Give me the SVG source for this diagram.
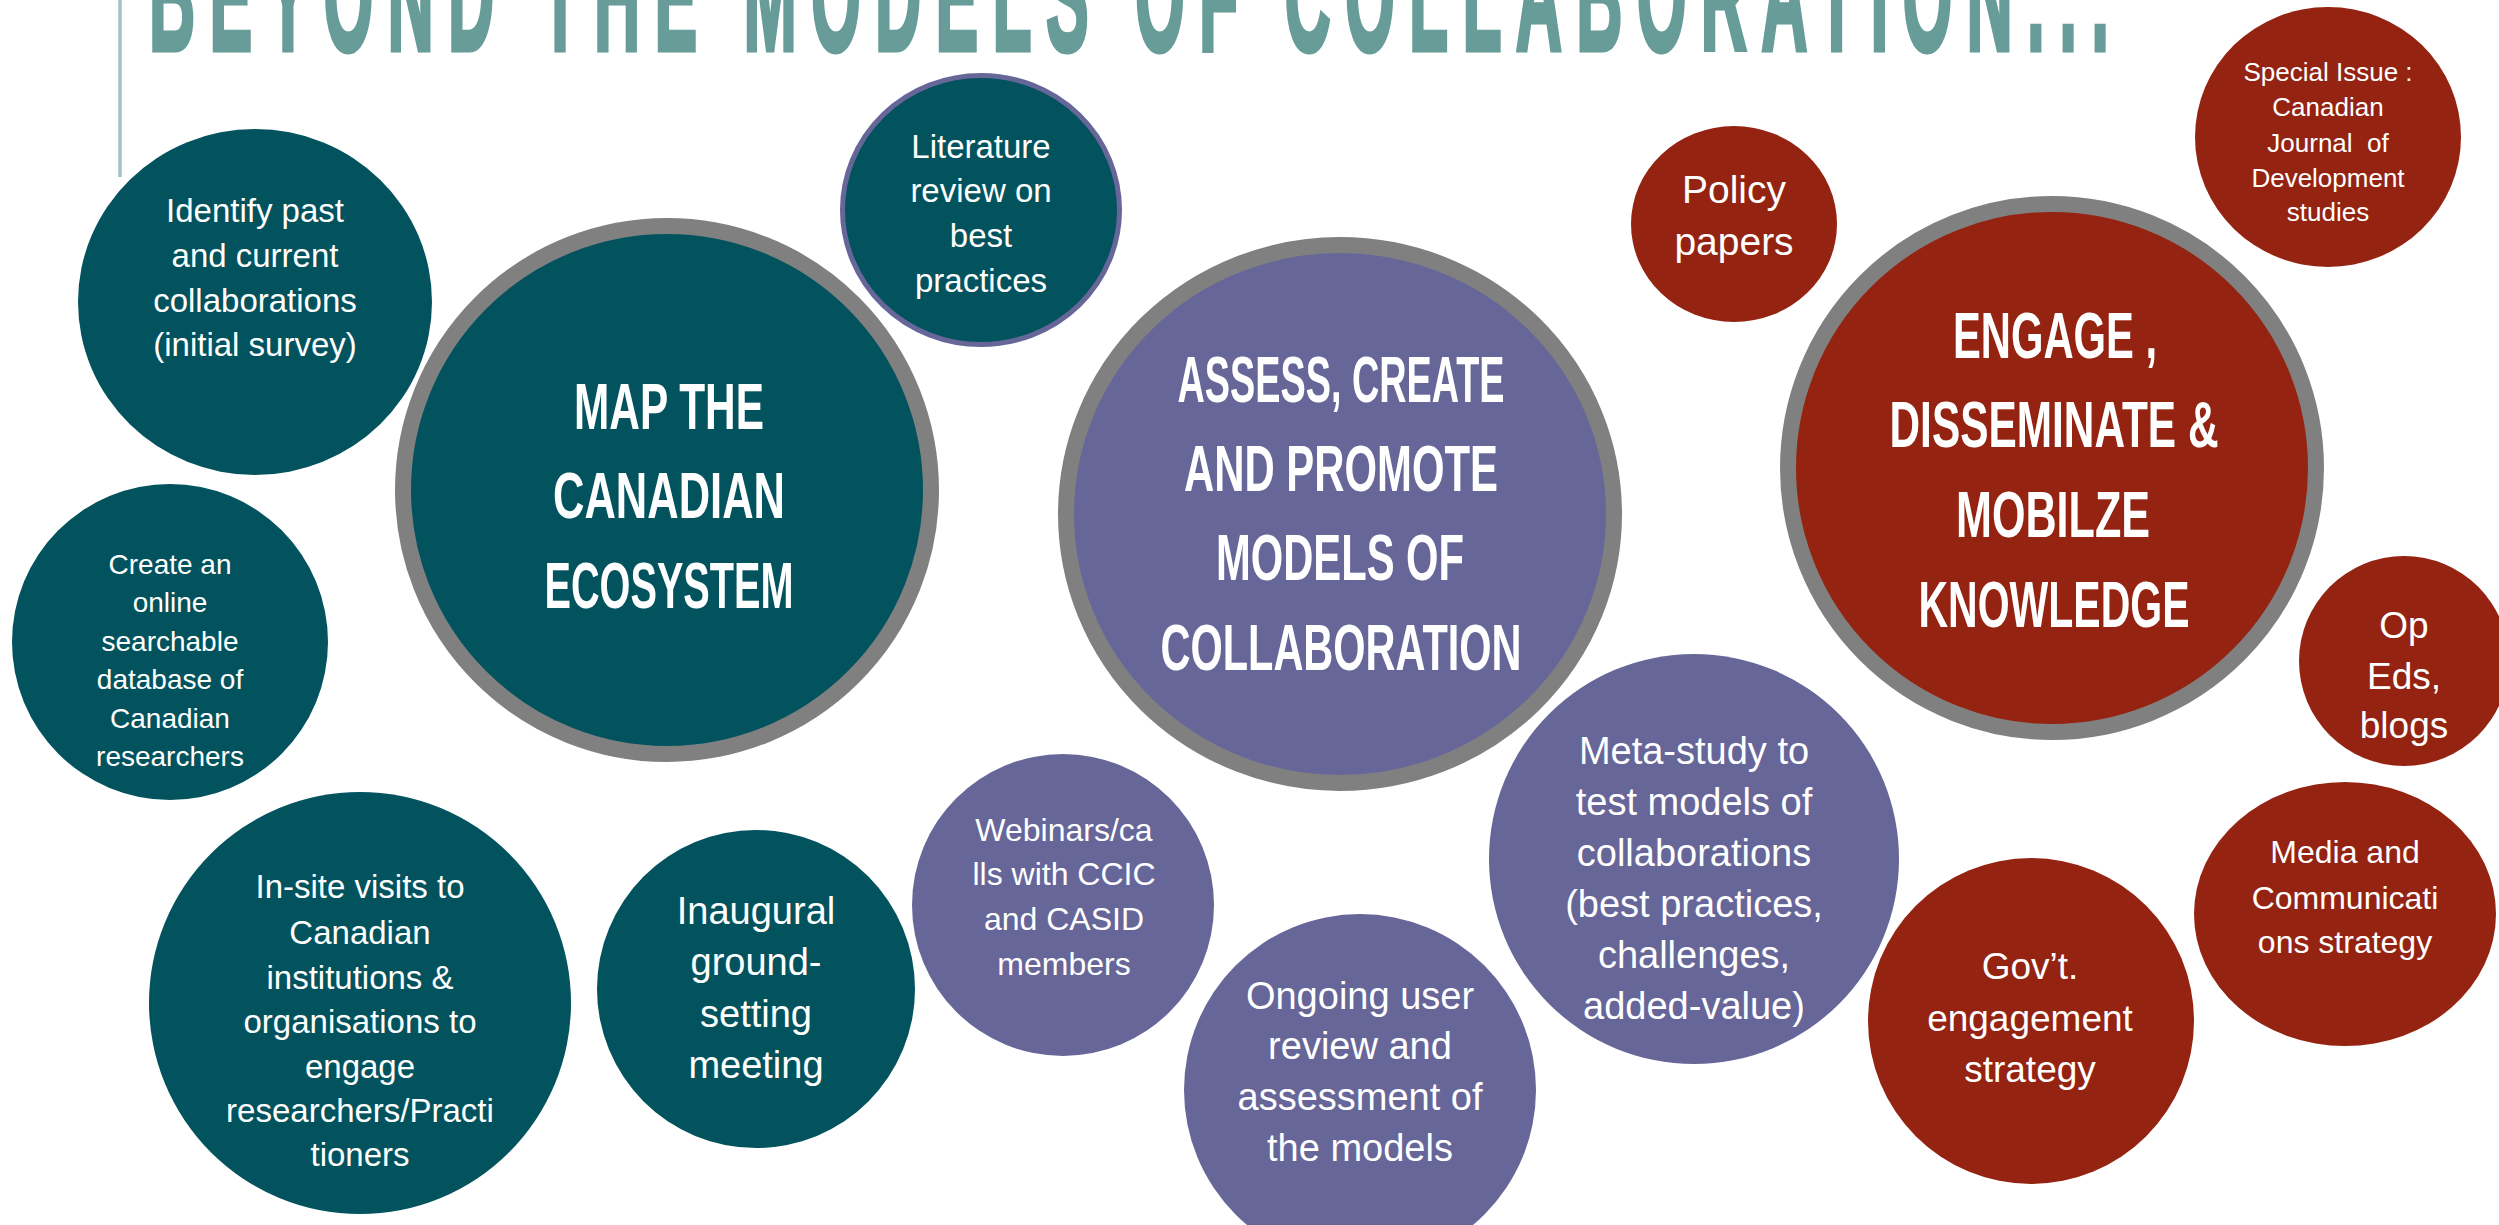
<svg xmlns="http://www.w3.org/2000/svg" width="2499" height="1225" viewBox="0 0 2499 1225">
<style>
.teal{fill:#02535E}
.purple{fill:#676699}
.red{fill:#942311}
.ring{stroke:#808080;stroke-width:16}
.t{font-family:"Liberation Sans",Arial,sans-serif;fill:#fff;text-anchor:middle}
.big{font-family:"Liberation Sans",Arial,sans-serif;fill:#fff;text-anchor:middle;font-weight:bold;font-size:64px}
.title{font-family:"Liberation Sans",Arial,sans-serif;fill:#679C98;stroke:#679C98;stroke-width:5;font-weight:bold;font-size:160px}
</style>
<rect width="2499" height="1225" fill="#fff"/>
<g id="title">
<line x1="120" y1="0" x2="120" y2="177" stroke="#9FC3C3" stroke-width="3.5"/>
<text class="title" transform="translate(149,50) scale(0.40,1)" textLength="4900" lengthAdjust="spacing">BEYOND THE MODELS OF COLLABORATION...</text>
</g>
<g id="connectors"></g>
<g id="identify">
<ellipse class="teal" cx="255" cy="302" rx="177" ry="173"/>
<text class="t" font-size="33"><tspan x="255" y="222">Identify past</tspan><tspan x="255" y="267">and current</tspan><tspan x="255" y="312">collaborations</tspan><tspan x="255" y="356">(initial survey)</tspan></text>
</g>
<g id="literature">
<ellipse class="teal" cx="981" cy="210" rx="138.5" ry="134.5" stroke="#676699" stroke-width="5"/>
<text class="t" font-size="33"><tspan x="981" y="158">Literature</tspan><tspan x="981" y="202">review on</tspan><tspan x="981" y="247">best</tspan><tspan x="981" y="292">practices</tspan></text>
</g>
<g id="map">
<circle class="teal ring" cx="667" cy="490" r="264"/>
<text class="big"><tspan x="669" y="429" textLength="190" lengthAdjust="spacingAndGlyphs">MAP THE</tspan></text>
<text class="big"><tspan x="669" y="518" textLength="232" lengthAdjust="spacingAndGlyphs">CANADIAN</tspan></text>
<text class="big"><tspan x="669" y="608" textLength="249" lengthAdjust="spacingAndGlyphs">ECOSYSTEM</tspan></text>
</g>
<g id="create">
<circle class="teal" cx="170" cy="642" r="158"/>
<text class="t" font-size="28"><tspan x="170" y="574">Create an</tspan><tspan x="170" y="612">online</tspan><tspan x="170" y="651">searchable</tspan><tspan x="170" y="689">database of</tspan><tspan x="170" y="728">Canadian</tspan><tspan x="170" y="766">researchers</tspan></text>
</g>
<g id="insite">
<circle class="teal" cx="360" cy="1003" r="211"/>
<text class="t" font-size="33"><tspan x="360" y="898">In-site visits to</tspan><tspan x="360" y="944">Canadian</tspan><tspan x="360" y="989">institutions &amp;</tspan><tspan x="360" y="1033">organisations to</tspan><tspan x="360" y="1078">engage</tspan><tspan x="360" y="1122">researchers/Practi</tspan><tspan x="360" y="1166">tioners</tspan></text>
</g>
<g id="inaugural">
<circle class="teal" cx="756" cy="989" r="159"/>
<text class="t" font-size="38"><tspan x="756" y="924">Inaugural</tspan><tspan x="756" y="975">ground-</tspan><tspan x="756" y="1027">setting</tspan><tspan x="756" y="1078">meeting</tspan></text>
</g>
<g id="webinars">
<circle class="purple" cx="1063" cy="905" r="151"/>
<text class="t" font-size="32"><tspan x="1064" y="841">Webinars/ca</tspan><tspan x="1064" y="885">lls with CCIC</tspan><tspan x="1064" y="930">and CASID</tspan><tspan x="1064" y="975">members</tspan></text>
</g>
<g id="assess">
<ellipse class="purple ring" cx="1340" cy="514" rx="274" ry="269"/>
<text class="big"><tspan x="1341" y="402" textLength="327" lengthAdjust="spacingAndGlyphs">ASSESS, CREATE</tspan></text>
<text class="big"><tspan x="1341" y="491" textLength="314" lengthAdjust="spacingAndGlyphs">AND PROMOTE</tspan></text>
<text class="big"><tspan x="1340" y="580" textLength="248" lengthAdjust="spacingAndGlyphs">MODELS OF</tspan></text>
<text class="big"><tspan x="1341" y="670" textLength="361" lengthAdjust="spacingAndGlyphs">COLLABORATION</tspan></text>
</g>
<g id="ongoing">
<circle class="purple" cx="1360" cy="1090" r="176"/>
<text class="t" font-size="38"><tspan x="1360" y="1009">Ongoing user</tspan><tspan x="1360" y="1059">review and</tspan><tspan x="1360" y="1110">assessment of</tspan><tspan x="1360" y="1161">the models</tspan></text>
</g>
<g id="meta">
<circle class="purple" cx="1694" cy="859" r="205"/>
<text class="t" font-size="38"><tspan x="1694" y="764">Meta-study to</tspan><tspan x="1694" y="815">test models of</tspan><tspan x="1694" y="866">collaborations</tspan><tspan x="1694" y="917">(best practices,</tspan><tspan x="1694" y="968">challenges,</tspan><tspan x="1694" y="1019">added-value)</tspan></text>
</g>
<g id="policy">
<ellipse class="red" cx="1734" cy="224" rx="103" ry="98"/>
<text class="t" font-size="39"><tspan x="1734" y="203">Policy</tspan><tspan x="1734" y="255">papers</tspan></text>
</g>
<g id="special">
<ellipse class="red" cx="2328" cy="137" rx="133" ry="130"/>
<text class="t" font-size="26" style="white-space:pre"><tspan x="2328" y="81">Special Issue :</tspan><tspan x="2328" y="116">Canadian</tspan><tspan x="2328" y="152">Journal  of</tspan><tspan x="2328" y="187">Development</tspan><tspan x="2328" y="221">studies</tspan></text>
</g>
<g id="engage">
<circle class="red ring" cx="2052" cy="468" r="264"/>
<text class="big"><tspan x="2055" y="358" textLength="204" lengthAdjust="spacingAndGlyphs">ENGAGE ,</tspan></text>
<text class="big"><tspan x="2054" y="447" textLength="329" lengthAdjust="spacingAndGlyphs">DISSEMINATE &amp;</tspan></text>
<text class="big"><tspan x="2053" y="537" textLength="194" lengthAdjust="spacingAndGlyphs">MOBILZE</tspan></text>
<text class="big"><tspan x="2054" y="627" textLength="271" lengthAdjust="spacingAndGlyphs">KNOWLEDGE</tspan></text>
</g>
<g id="opeds">
<circle class="red" cx="2404" cy="661" r="105"/>
<text class="t" font-size="37"><tspan x="2404" y="638">Op</tspan><tspan x="2404" y="689">Eds,</tspan><tspan x="2404" y="738">blogs</tspan></text>
</g>
<g id="media">
<ellipse class="red" cx="2345" cy="914" rx="151" ry="132"/>
<text class="t" font-size="32"><tspan x="2345" y="863">Media and</tspan><tspan x="2345" y="909">Communicati</tspan><tspan x="2345" y="953">ons strategy</tspan></text>
</g>
<g id="govt">
<circle class="red" cx="2031" cy="1021" r="163"/>
<text class="t" font-size="37"><tspan x="2030" y="979">Gov’t.</tspan><tspan x="2030" y="1031">engagement</tspan><tspan x="2030" y="1082">strategy</tspan></text>
</g>
</svg>
